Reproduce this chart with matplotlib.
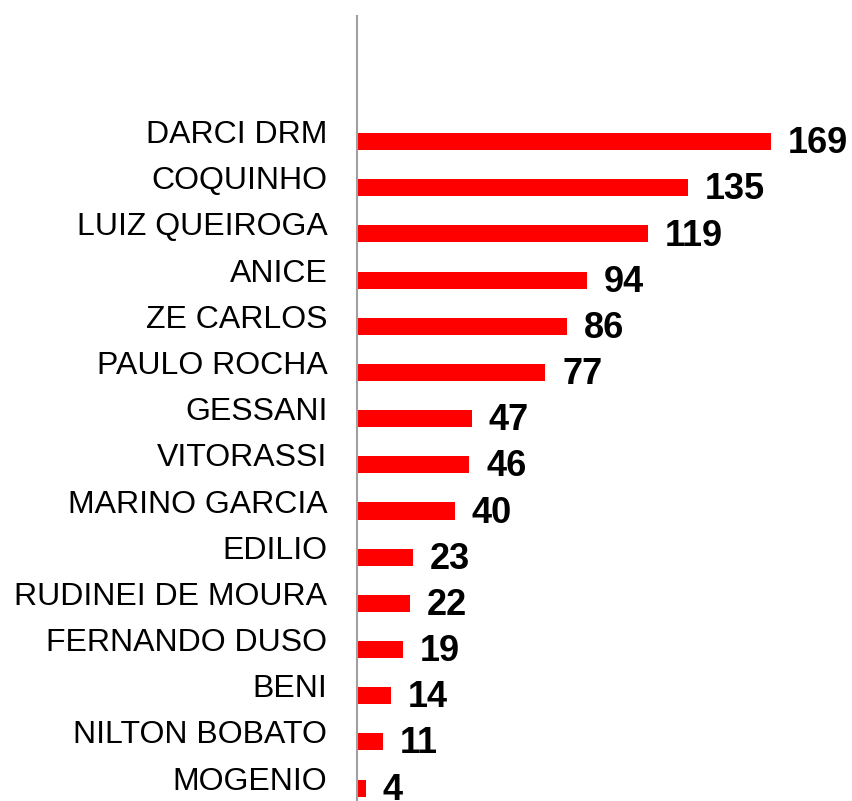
import matplotlib.pyplot as plt
import matplotlib.transforms as mtransforms
import numpy as np

names = ['DARCI DRM', 'COQUINHO', 'LUIZ QUEIROGA', 'ANICE', 'ZE CARLOS',
         'PAULO ROCHA', 'GESSANI', 'VITORASSI', 'MARINO GARCIA', 'EDILIO',
         'RUDINEI DE MOURA', 'FERNANDO DUSO', 'BENI', 'NILTON BOBATO', 'MOGENIO']
votes = [169, 135, 119, 94, 86, 77, 47, 46, 40, 23, 22, 19, 14, 11, 4]

plt.rcParams['font.family'] = ['Liberation Sans', 'DejaVu Sans']

fig = plt.figure(figsize=(8.52, 8.01), dpi=100)
ax = fig.add_axes([356.5 / 852, 0, 1 - 356.5 / 852, 785 / 801])

pos = np.arange(len(names))[::-1]
ax.barh(pos, votes, height=0.37, color='#ff0000')

for p, v in zip(pos, votes):
    ax.annotate(str(v), (v, p), xytext=(12, -1.5), textcoords='offset points',
                ha='left', va='center', fontsize=26, fontweight='bold', clip_on=False)

ax.set_xlim(0, 202)
ax.set_ylim(-0.28, 16.72)
ax.set_yticks(pos)
ax.set_yticklabels(names, fontsize=23)
ax.tick_params(axis='y', length=0, pad=21)
ax.set_xticks([])

# category labels sit a little above their bars
shift = mtransforms.ScaledTranslation(0, 10 / 100, fig.dpi_scale_trans)
for lab in ax.get_yticklabels():
    lab.set_transform(lab.get_transform() + shift)

for s in ['top', 'right', 'bottom']:
    ax.spines[s].set_visible(False)
ax.spines['left'].set_color('#a0a0a0')
ax.spines['left'].set_linewidth(1.5)

fig.savefig('out.png', dpi=100)
